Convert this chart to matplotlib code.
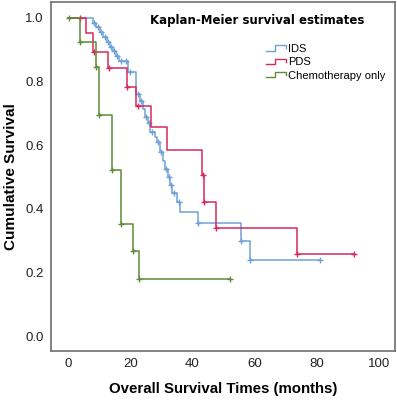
import matplotlib
matplotlib.use("Agg")
import matplotlib.pyplot as plt
from matplotlib.legend_handler import HandlerBase
from matplotlib.lines import Line2D

# IDS: event times (months) and survival after each event
ids_times = [8.0, 9.0, 10.2, 11.3, 12.5, 13.5, 14.5, 15.5, 16.5, 19.2,
             22.0, 23.0, 24.0, 24.8, 25.8, 26.5, 27.8, 28.5, 29.5, 30.5,
             31.2, 32.0, 32.8, 33.5, 35.0, 36.0, 41.8, 55.7, 58.5]
ids_surv = [0.985, 0.97, 0.955, 0.94, 0.925, 0.91, 0.895, 0.88, 0.865, 0.83,
            0.76, 0.74, 0.715, 0.69, 0.67, 0.64, 0.625, 0.61, 0.58, 0.55,
            0.525, 0.50, 0.475, 0.45, 0.42, 0.39, 0.356, 0.30, 0.24]
ids_cens = [8.5, 9.5, 10.6, 11.8, 12.9, 13.9, 14.9, 15.9, 17.0, 18.5,
            20.0, 22.4, 23.5, 25.0, 26.0, 27.0, 29.0, 30.0, 31.5, 32.4,
            33.0, 34.0, 35.5, 41.8, 55.7, 58.5, 81.0]

# PDS
pds_times = [5.8, 7.9, 12.7, 19.0, 22.0, 26.8, 31.8, 43.0, 43.6, 47.6, 73.6]
pds_surv = [0.952, 0.894, 0.844, 0.784, 0.723, 0.658, 0.585, 0.506, 0.422,
            0.339, 0.257]
pds_cens = [3.8, 8.3, 13.1, 19.0, 22.4, 43.2, 43.6, 47.6, 73.6, 91.8]

# Chemotherapy only
chemo_times = [3.8, 8.9, 9.9, 14.0, 17.0, 20.9, 22.9]
chemo_surv = [0.923, 0.847, 0.694, 0.523, 0.352, 0.266, 0.18]
chemo_cens = [0.3, 3.8, 8.9, 9.9, 14.0, 17.0, 20.9, 22.9, 51.9]

labels = ["IDS", "PDS", "Chemotherapy only"]
colors = ["#6fa0d8", "#d42a5c", "#5e8c3a"]

x_ticks = [0, 20, 40, 60, 80, 100]
y_ticks = [0.0, 0.2, 0.4, 0.6, 0.8, 1.0]


def surv_at(t, times, surv):
    s = 1.0
    for ti, si in zip(times, surv):
        if ti <= t:
            s = si
    return s


class StepHandler(HandlerBase):
    def create_artists(self, legend, orig_handle, xdescent, ydescent,
                       width, height, fontsize, trans):
        x0, y0 = -xdescent, -ydescent
        xs = [x0, x0 + 0.45 * width, x0 + 0.45 * width, x0 + width,
              x0 + width]
        ys = [y0 + 0.15 * height, y0 + 0.15 * height, y0 + 0.85 * height,
              y0 + 0.85 * height, y0 + 0.45 * height]
        line = Line2D(xs, ys, color=orig_handle.get_color(), lw=1.0,
                      transform=trans)
        return [line]


plt.rcParams['font.family'] = ['Liberation Sans', 'DejaVu Sans']

fig = plt.figure(figsize=(3.97, 4.0), dpi=100)
ax = fig.add_axes([0.128, 0.1225, 0.867, 0.8725])

handles = []
groups = [(ids_times, ids_surv, ids_cens),
          (pds_times, pds_surv, pds_cens),
          (chemo_times, chemo_surv, chemo_cens)]
for (times, surv, cens), color, label in zip(groups, colors, labels):
    end = max(cens + times)
    xs = [0] + times + [end]
    ys = [1.0] + surv + [surv[-1]]
    h, = ax.step(xs, ys, where='post', color=color, lw=1.1, label=label)
    handles.append(h)
    cy = [surv_at(t, times, surv) for t in cens]
    ax.plot(cens, cy, ls='none', marker='+', ms=5, mew=1.0, color=color)

ax.set_xlim(-5.5, 105)
ax.set_ylim(-0.047, 1.05)
ax.set_xticks(x_ticks)
ax.set_xticklabels([str(v) for v in x_ticks])
ax.set_yticks(y_ticks)
ax.set_yticklabels([f"{v:.1f}" for v in y_ticks])
ax.tick_params(length=0, labelsize=9.5, colors='#222222', pad=5)
for sp in ax.spines.values():
    sp.set_color('#707070')
    sp.set_linewidth(1.2)

ax.set_xlabel("Overall Survival Times (months)", fontsize=10.8,
              fontweight='bold', labelpad=9)
ax.set_ylabel("Cumulative Survival", fontsize=11, fontweight='bold',
              labelpad=5)

ax.text(0.60, 0.948, "Kaplan-Meier survival estimates", transform=ax.transAxes,
        ha='center', va='center', fontsize=8.5, fontweight='bold',
        family='DejaVu Sans')

ax.legend(handles=handles, labels=labels, loc='upper left',
          bbox_to_anchor=(0.625, 0.88), frameon=False, fontsize=8,
          handlelength=1.8, handletextpad=0.2, labelspacing=0.3,
          borderpad=0, borderaxespad=0,
          handler_map={Line2D: StepHandler()})

fig.savefig("out.png", dpi=100)
